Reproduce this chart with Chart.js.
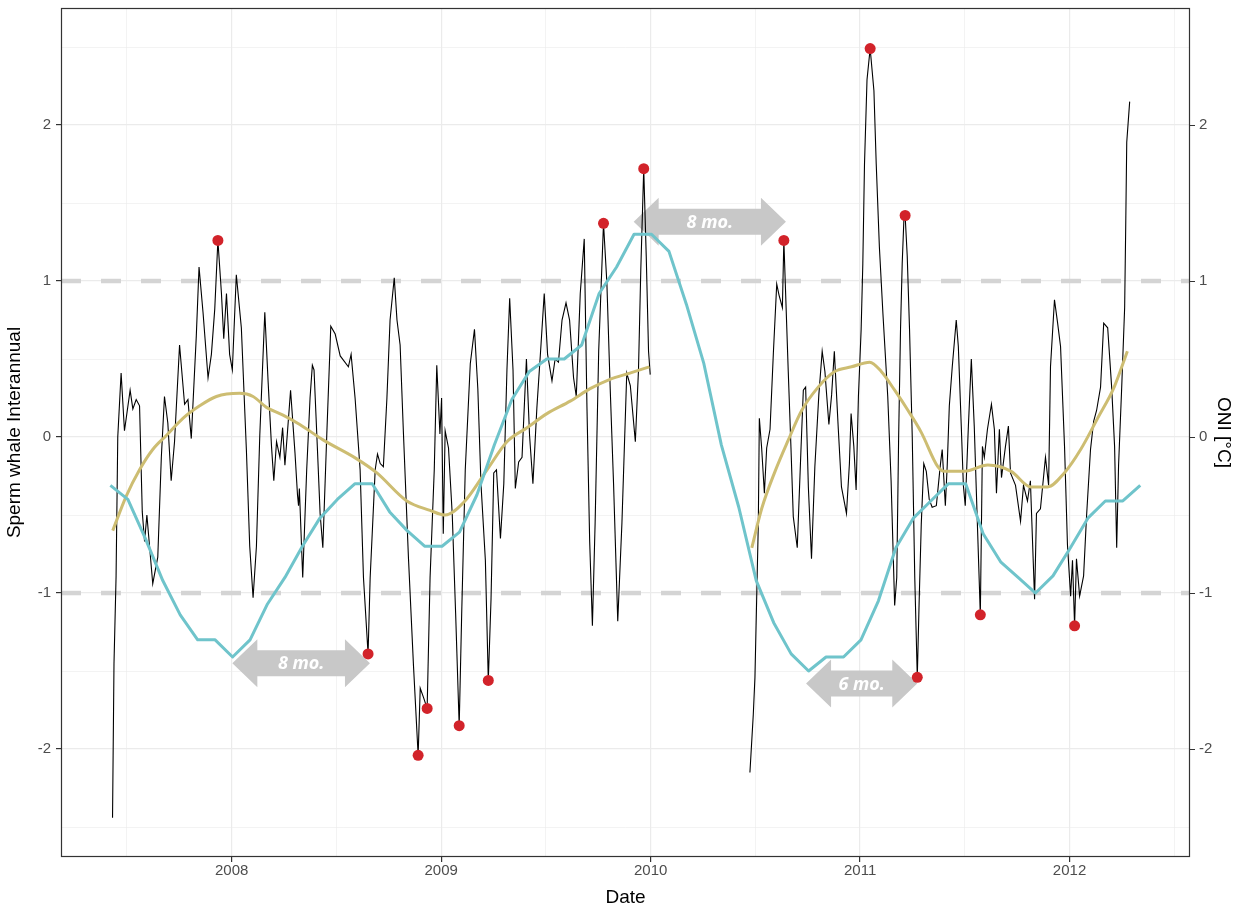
<!DOCTYPE html>
<html>
<head>
<meta charset="utf-8">
<script src="https://cdn.jsdelivr.net/npm/chart.js@4.4.1/dist/chart.umd.min.js"></script>
<style>
html,body{margin:0;padding:0;background:#ffffff;}
#wrap{width:1238px;height:907px;}
</style>
</head>
<body>
<div id="wrap"><canvas id="c" width="1238" height="907"></canvas></div>
<script>
// ---------------- DATA ----------------
// Sperm whale interannual index (black line), two segments (decimal year, value)
const whaleX1 = [2007.431,2007.438,2007.448,2007.456,2007.472,2007.488,2007.515,2007.528,2007.544,2007.560,
2007.573,2007.584,2007.595,2007.623,2007.647,2007.664,2007.679,2007.695,2007.711,2007.727,
2007.751,2007.775,2007.791,2007.807,2007.831,2007.844,2007.863,2007.887,2007.903,2007.919,
2007.934,2007.951,2007.962,2007.975,2007.990,2008.003,2008.022,2008.046,2008.070,2008.086,
2008.102,2008.118,2008.134,2008.158,2008.174,2008.190,2008.201,2008.214,2008.230,2008.243,
2008.254,2008.265,2008.281,2008.302,2008.314,2008.319,2008.323,2008.339,2008.358,2008.374,
2008.385,2008.393,2008.409,2008.422,2008.435,2008.454,2008.473,2008.494,2008.518,2008.557,
2008.570,2008.589,2008.613,2008.629,2008.651,2008.661,2008.685,2008.696,2008.709,2008.724,
2008.741,2008.756,2008.776,2008.789,2008.804,2008.820,2008.844,2008.868,2008.890,2008.900,
2008.916,2008.933,2008.947,2008.967,2008.979,2008.994,2009.002,2009.010,2009.019,2009.035,
2009.053,2009.069,2009.086,2009.098,2009.115,2009.139,2009.159,2009.175,2009.190,2009.211,
2009.225,2009.238,2009.251,2009.264,2009.283,2009.299,2009.314,2009.327,2009.343,2009.354,
2009.370,2009.386,2009.407,2009.422,2009.438,2009.457,2009.477,2009.492,2009.508,2009.529,
2009.544,2009.560,2009.577,2009.596,2009.613,2009.632,2009.645,2009.664,2009.683,2009.696,
2009.709,2009.722,2009.735,2009.752,2009.775,2009.791,2009.807,2009.823,2009.843,2009.863,
2009.886,2009.903,2009.927,2009.942,2009.953,2009.967,2009.979,2009.990,2009.998];
const whaleY1 = [-2.44,-1.45,-0.89,0.00,0.41,0.04,0.30,0.18,0.24,0.20,
-0.48,-0.67,-0.50,-0.94,-0.77,-0.13,0.26,0.09,-0.28,-0.03,
0.59,0.21,0.24,-0.01,0.65,1.09,0.80,0.38,0.53,0.82,
1.26,0.92,0.63,0.92,0.53,0.43,1.04,0.70,-0.08,-0.70,
-1.03,-0.70,0.01,0.80,0.35,-0.06,-0.28,-0.03,-0.13,0.06,
-0.18,0.01,0.30,-0.10,-0.37,-0.44,-0.33,-0.90,-0.21,0.25,
0.46,0.43,-0.07,-0.49,-0.71,0.02,0.71,0.66,0.52,0.45,
0.53,0.25,-0.21,-0.90,-1.39,-0.90,-0.21,-0.11,-0.17,-0.19,
0.25,0.75,1.02,0.75,0.59,0.02,-0.78,-1.47,-2.04,-1.61,
-1.67,-1.74,-0.90,-0.21,0.46,0.02,0.25,-0.62,0.04,-0.07,
-0.50,-1.13,-1.85,-1.13,-0.21,0.47,0.69,0.31,-0.30,-0.79,
-1.56,-1.04,-0.23,-0.21,-0.65,-0.30,0.43,0.89,0.43,-0.33,
-0.16,-0.13,0.50,0.01,-0.30,0.19,0.60,0.92,0.53,0.36,
0.50,0.48,0.75,0.86,0.75,0.38,0.26,0.92,1.27,0.19,
-0.67,-1.21,-0.55,0.55,1.37,0.99,0.31,-0.30,-1.18,-0.55,
0.41,0.33,-0.03,0.43,1.07,1.72,1.16,0.55,0.40];

const whaleX2 = [2010.474,2010.490,2010.498,2010.506,2010.514,2010.519,2010.530,2010.543,2010.554,2010.570,
2010.586,2010.602,2010.613,2010.629,2010.636,2010.657,2010.670,2010.681,2010.700,2010.718,
2010.729,2010.740,2010.753,2010.768,2010.784,2010.803,2010.819,2010.832,2010.851,2010.864,
2010.877,2010.896,2010.911,2010.935,2010.949,2010.957,2010.970,2010.981,2010.992,2011.005,
2011.013,2011.021,2011.033,2011.048,2011.066,2011.077,2011.092,2011.109,2011.132,2011.148,
2011.165,2011.175,2011.184,2011.193,2011.201,2011.209,2011.215,2011.225,2011.236,2011.249,
2011.261,2011.273,2011.282,2011.292,2011.304,2011.316,2011.330,2011.344,2011.364,2011.383,
2011.392,2011.407,2011.416,2011.426,2011.440,2011.459,2011.469,2011.483,2011.493,2011.502,
2011.517,2011.531,2011.545,2011.560,2011.574,2011.584,2011.593,2011.608,2011.627,2011.641,
2011.651,2011.665,2011.675,2011.694,2011.708,2011.718,2011.742,2011.766,2011.780,2011.799,
2011.813,2011.833,2011.842,2011.861,2011.885,2011.900,2011.909,2011.928,2011.943,2011.957,
2011.976,2011.990,2012.005,2012.014,2012.024,2012.033,2012.048,2012.067,2012.081,2012.100,
2012.115,2012.129,2012.148,2012.163,2012.182,2012.201,2012.215,2012.225,2012.234,2012.249,
2012.263,2012.268,2012.273,2012.287];
const whaleY2 = [-2.15,-1.78,-1.54,-1.05,-0.56,0.12,-0.07,-0.36,-0.07,0.05,
0.54,0.98,0.91,0.83,1.26,0.42,-0.07,-0.51,-0.71,-0.07,
0.30,0.32,-0.32,-0.78,-0.19,0.27,0.55,0.42,0.08,0.27,
0.55,0.05,-0.32,-0.49,-0.17,0.15,-0.06,-0.34,0.26,0.69,
1.11,1.75,2.29,2.49,2.22,1.75,1.22,0.79,0.26,-0.28,
-1.08,-0.90,0.00,0.69,1.11,1.39,1.42,1.16,0.69,0.00,
-0.90,-1.54,-1.05,-0.56,-0.17,-0.22,-0.40,-0.45,-0.44,-0.18,
-0.08,-0.44,-0.18,0.20,0.45,0.75,0.58,0.07,-0.31,-0.44,
0.07,0.50,0.07,-0.56,-1.14,-0.06,-0.13,0.05,0.21,0.05,
-0.36,0.05,-0.26,-0.06,0.07,-0.23,-0.31,-0.54,-0.31,-0.41,
-0.28,-1.04,-0.49,-0.46,-0.13,-0.31,0.45,0.88,0.73,0.58,
-0.06,-0.69,-1.02,-0.79,-1.21,-0.78,-1.02,-0.89,-0.51,-0.08,
0.10,0.17,0.32,0.73,0.70,0.32,-0.06,-0.71,-0.18,0.32,
0.83,1.34,1.89,2.15];

// Smoothed trend (khaki), two segments
const smoothX1 = [2007.432,2007.496,2007.560,2007.623,2007.688,2007.767,2007.847,2007.927,2008.038,2008.102,
2008.166,2008.245,2008.325,2008.438,2008.597,2008.693,2008.836,2008.947,2009.019,2009.107,
2009.219,2009.314,2009.410,2009.505,2009.616,2009.711,2009.806,2009.901,2009.994];
const smoothY1 = [-0.60,-0.38,-0.21,-0.08,0.01,0.12,0.20,0.26,0.28,0.26,
0.19,0.14,0.08,-0.02,-0.14,-0.23,-0.41,-0.47,-0.50,-0.42,
-0.21,-0.03,0.06,0.15,0.23,0.31,0.37,0.41,0.45];
const smoothX2 = [2010.483,2010.530,2010.594,2010.657,2010.721,2010.800,2010.879,2010.959,2011.046,2011.101,
2011.165,2011.229,2011.292,2011.371,2011.402,2011.498,2011.610,2011.721,2011.816,2011.895,
2011.975,2012.053,2012.134,2012.213,2012.276];
const smoothY2 = [-0.71,-0.46,-0.22,-0.02,0.17,0.32,0.42,0.45,0.48,0.42,
0.30,0.17,0.03,-0.19,-0.22,-0.22,-0.18,-0.22,-0.32,-0.32,
-0.23,-0.08,0.12,0.32,0.55];

// ONI monthly values (cyan)
const oniMonths = ['2007-06','2007-07','2007-08','2007-09','2007-10','2007-11','2007-12',
'2008-01','2008-02','2008-03','2008-04','2008-05','2008-06','2008-07','2008-08','2008-09','2008-10','2008-11','2008-12',
'2009-01','2009-02','2009-03','2009-04','2009-05','2009-06','2009-07','2009-08','2009-09','2009-10','2009-11','2009-12',
'2010-01','2010-02','2010-03','2010-04','2010-05','2010-06','2010-07','2010-08','2010-09','2010-10','2010-11','2010-12',
'2011-01','2011-02','2011-03','2011-04','2011-05','2011-06','2011-07','2011-08','2011-09','2011-10','2011-11','2011-12',
'2012-01','2012-02','2012-03','2012-04','2012-05'];
const oniValues = [-0.31,-0.40,-0.65,-0.92,-1.14,-1.30,-1.30,
-1.41,-1.30,-1.07,-0.90,-0.70,-0.52,-0.40,-0.30,-0.30,-0.48,-0.60,-0.70,
-0.70,-0.61,-0.37,-0.05,0.24,0.42,0.50,0.50,0.59,0.92,1.09,1.30,
1.30,1.19,0.85,0.47,-0.05,-0.45,-0.92,-1.19,-1.39,-1.50,-1.41,-1.41,
-1.30,-1.05,-0.71,-0.52,-0.41,-0.30,-0.30,-0.62,-0.80,-0.90,-1.00,-0.89,
-0.71,-0.52,-0.41,-0.41,-0.31];

// Extreme events (red points)
const extremeX = [2007.934,2008.651,2008.890,2008.933,2009.086,2009.225,2009.775,2009.967,2010.636,2011.048,2011.215,2011.273,2011.574,2012.024];
const extremeY = [1.26,-1.39,-2.04,-1.74,-1.85,-1.56,1.37,1.72,1.26,2.49,1.42,-1.54,-1.14,-1.21];

// Axes
const xTicks = [2007.5,2008,2008.5,2009,2009.5,2010,2010.5,2011,2011.5,2012,2012.5];
const yTicks = [-2.5,-2,-1.5,-1,-0.5,0,0.5,1,1.5,2,2.5];
const xRange = [2007.185, 2012.575];
const yRange = [-2.692, 2.75];
const refLines = [1, -1];

// Lag annotations (double arrows)
const arrowFrom = [2008.003, 2009.919, 2010.742];
const arrowTo   = [2008.660, 2010.646, 2011.273];
const arrowAt   = [-1.45, 1.38, -1.58];
const arrowText = ['8 mo.', '8 mo.', '6 mo.'];

// ---------------- BUILD ----------------
const pts = (xs, ys) => xs.map((x, i) => ({x: x, y: ys[i]}));
const monthToX = s => { const [yy, mm] = s.split('-').map(Number); return yy + (mm - 1 + 0.05) / 12; };
const oniData = oniMonths.map((m, i) => ({x: monthToX(m), y: oniValues[i]}));

const FONT = '"Liberation Sans", Arial, Helvetica, sans-serif';
const isMajor = v => Math.abs(v - Math.round(v)) < 1e-9;

const decor = {
  id: 'decor',
  beforeDatasetsDraw(chart) {
    const {ctx, chartArea: a} = chart;
    const x = chart.scales.x, y = chart.scales.y;
    ctx.save();
    ctx.beginPath();
    ctx.rect(a.left, a.top, a.right - a.left, a.bottom - a.top);
    ctx.clip();
    // dashed reference lines
    ctx.strokeStyle = '#D4D4D4';
    ctx.lineWidth = 4.5;
    ctx.setLineDash([20, 20]);
    refLines.forEach(v => {
      const py = y.getPixelForValue(v);
      ctx.beginPath();
      ctx.moveTo(a.left, py);
      ctx.lineTo(a.right, py);
      ctx.stroke();
    });
    ctx.setLineDash([]);
    // double arrows
    const headL = 25, headH = 48, shaftH = 26;
    arrowFrom.forEach((f, i) => {
      const x1 = x.getPixelForValue(f), x2 = x.getPixelForValue(arrowTo[i]);
      const yc = y.getPixelForValue(arrowAt[i]);
      ctx.fillStyle = '#C8C8C8';
      ctx.beginPath();
      ctx.moveTo(x1, yc);
      ctx.lineTo(x1 + headL, yc - headH / 2);
      ctx.lineTo(x1 + headL, yc - shaftH / 2);
      ctx.lineTo(x2 - headL, yc - shaftH / 2);
      ctx.lineTo(x2 - headL, yc - headH / 2);
      ctx.lineTo(x2, yc);
      ctx.lineTo(x2 - headL, yc + headH / 2);
      ctx.lineTo(x2 - headL, yc + shaftH / 2);
      ctx.lineTo(x1 + headL, yc + shaftH / 2);
      ctx.lineTo(x1 + headL, yc + headH / 2);
      ctx.closePath();
      ctx.fill();
      ctx.fillStyle = '#FFFFFF';
      ctx.font = 'italic bold 18px "Open Sans", Lato, sans-serif';
      ctx.textAlign = 'center';
      ctx.textBaseline = 'middle';
      ctx.fillText(arrowText[i], (x1 + x2) / 2, yc + 1);
    });
    ctx.restore();
  },
  afterDraw(chart) {
    const {ctx, chartArea: a} = chart;
    ctx.save();
    ctx.strokeStyle = '#333333';
    ctx.lineWidth = 1.2;
    ctx.strokeRect(Math.round(a.left) + 0.5, Math.round(a.top) + 0.5,
                   Math.round(a.right - a.left) - 1, Math.round(a.bottom - a.top) - 1);
    ctx.restore();
  }
};

const tickFont = {family: FONT, size: 15};
const titleFont = {family: FONT, size: 19, lineHeight: 1.2};

new Chart(document.getElementById('c'), {
  type: 'scatter',
  data: {
    datasets: [
      {data: pts(extremeX, extremeY), showLine: false, pointRadius: 5.5, pointBackgroundColor: '#D2232A',
       pointBorderWidth: 0, order: 1},
      {data: oniData, showLine: true, borderColor: '#6FC4CB', borderWidth: 3, pointRadius: 0, tension: 0,
       borderJoinStyle: 'round', order: 2},
      {data: pts(smoothX1, smoothY1), showLine: true, borderColor: '#CDBD72', borderWidth: 3, pointRadius: 0,
       tension: 0.4, cubicInterpolationMode: 'monotone', order: 3},
      {data: pts(smoothX2, smoothY2), showLine: true, borderColor: '#CDBD72', borderWidth: 3, pointRadius: 0,
       tension: 0.4, cubicInterpolationMode: 'monotone', order: 3},
      {data: pts(whaleX1, whaleY1), showLine: true, borderColor: '#000000', borderWidth: 1.1, pointRadius: 0,
       tension: 0, order: 4},
      {data: pts(whaleX2, whaleY2), showLine: true, borderColor: '#000000', borderWidth: 1.1, pointRadius: 0,
       tension: 0, order: 4}
    ]
  },
  options: {
    responsive: false,
    animation: false,
    devicePixelRatio: 1,
    layout: {padding: {top: 8, left: 0, right: 0, bottom: 0}},
    plugins: {legend: {display: false}, tooltip: {enabled: false}},
    scales: {
      x: {
        type: 'linear', position: 'bottom', min: xRange[0], max: xRange[1],
        afterBuildTicks: s => { s.ticks = xTicks.map(v => ({value: v})); },
        afterFit: s => { s.height = 50; s.paddingLeft = 0; s.paddingRight = 0; },
        grid: {color: '#EBEBEB', lineWidth: c => (c.tick && isMajor(c.tick.value)) ? 1.2 : 0.6,
               tickColor: c => (c.tick && isMajor(c.tick.value)) ? '#333333' : 'rgba(0,0,0,0)',
               tickLength: 5, drawTicks: true},
        border: {display: false},
        ticks: {autoSkip: false, maxRotation: 0, color: '#4D4D4D', font: tickFont, padding: 0,
                callback: v => isMajor(v) ? String(Math.round(v)) : ''},
        title: {display: true, text: 'Date', color: '#000000', font: {family: FONT, size: 19, lineHeight: 1}, padding: {top: 0, bottom: 0}}
      },
      y: {
        type: 'linear', position: 'left', min: yRange[0], max: yRange[1],
        afterBuildTicks: s => { s.ticks = yTicks.map(v => ({value: v})); },
        afterFit: s => { s.width = 61; s.paddingTop = 0; s.paddingBottom = 0; },
        grid: {color: '#EBEBEB', lineWidth: c => (c.tick && isMajor(c.tick.value)) ? 1.2 : 0.6,
               tickColor: c => (c.tick && isMajor(c.tick.value)) ? '#333333' : 'rgba(0,0,0,0)',
               tickLength: 5, drawTicks: true},
        border: {display: false},
        ticks: {autoSkip: false, color: '#4D4D4D', font: tickFont, padding: 5,
                callback: v => isMajor(v) ? String(Math.round(v)) : ''},
        title: {display: true, text: 'Sperm whale Interannual', color: '#000000', font: titleFont, padding: {top: 3, bottom: 0}}
      },
      y2: {
        type: 'linear', position: 'right', min: yRange[0], max: yRange[1],
        afterBuildTicks: s => { s.ticks = yTicks.map(v => ({value: v})); },
        afterFit: s => { s.width = 48; s.paddingTop = 0; s.paddingBottom = 0; },
        grid: {drawOnChartArea: false,
               tickColor: c => (c.tick && isMajor(c.tick.value)) ? '#333333' : 'rgba(0,0,0,0)',
               tickLength: 5, drawTicks: true},
        border: {display: false},
        ticks: {autoSkip: false, color: '#4D4D4D', font: tickFont, padding: 4,
                callback: v => isMajor(v) ? String(Math.round(v)) : ''},
        title: {display: true, text: 'ONI [°C]', color: '#000000', font: titleFont, padding: {top: 3, bottom: 0}}
      }
    }
  },
  plugins: [decor]
});
</script>
</body>
</html>
